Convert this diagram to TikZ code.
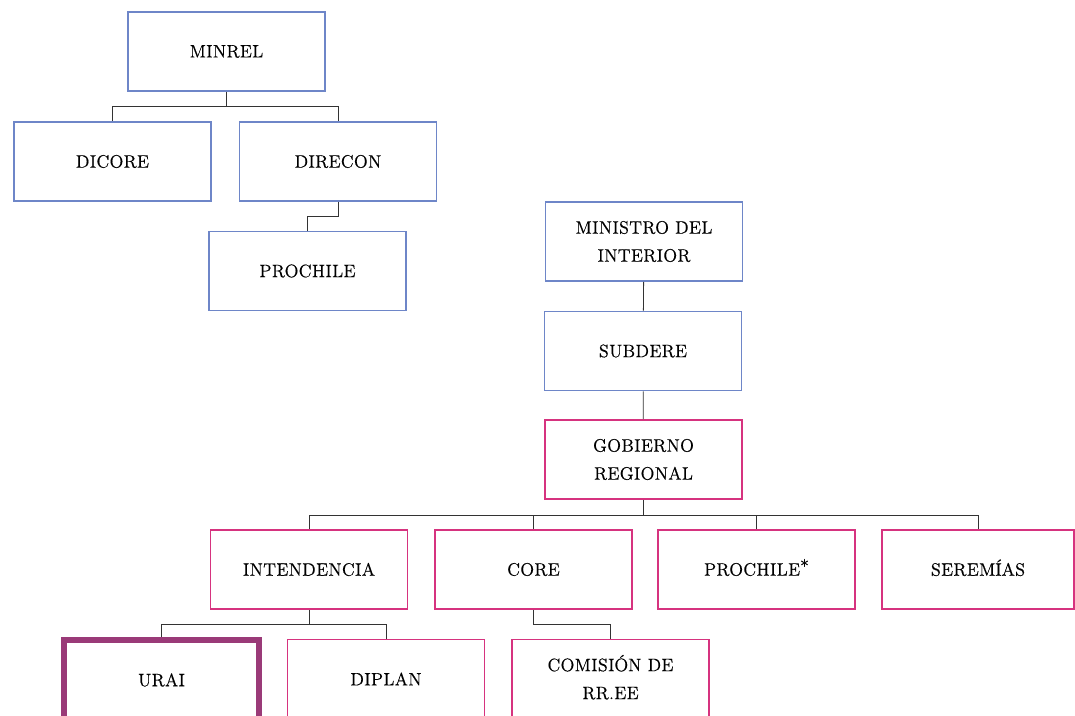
\documentclass[tikz,border=0pt]{standalone}
\usepackage{fontspec}
\newfontfamily\unitfont{Latin Modern Roman}[FakeBold=0.5, LetterSpace=2]
\definecolor{minblue}{HTML}{6E86C8}
\definecolor{gorepink}{HTML}{D6337F}
\definecolor{uraipurple}{HTML}{9A3A78}
\tikzset{
  unit/.style={draw, line width=1.2pt, fill=white, minimum width=147.75pt, minimum height=59.25pt,
    align=center, inner sep=2pt, font=\unitfont\fontsize{13.5}{21}\selectfont},
  national/.style={unit, draw=minblue},
  regional/.style={unit, draw=gorepink},
  focus/.style={unit, draw=uraipurple, line width=4.5pt, minimum width=146pt, minimum height=60pt},
  link/.style={draw=black!80, line width=0.6pt}
}
\begin{document}
\begin{tikzpicture}[x=0.75pt, y=-0.75pt]
            \useasboundingbox (0,0) rectangle (1075,716);
            \clip (0,0) rectangle (1075,716);
            % ministerio de relaciones exteriores
            \node[national] (minrel) at (226.5,51.5) {MINREL};
            \node[national] (dicore) at (112.5,161.5) {DICORE};
            \node[national] (direcon) at (338,161.5) {DIRECON};
            \node[national] (prochileA) at (307.5,271) {PROCHILE};
            \draw[link] (minrel.south) -- ++(0,15) coordinate (busA);
            \draw[link] (dicore.north) |- (busA) -| (direcon.north);
            \draw[link] (direcon.south) -- ++(0,15) -| (prochileA.north);
            % interior
            \node[national] (ministro) at (644,241.5) {MINISTRO DEL\\INTERIOR};
            \node[national] (subdere) at (643,351) {SUBDERE};
            \node[regional] (gore) at (643.5,459.5) {GOBIERNO\\REGIONAL};
            \draw[link] (ministro) -- (subdere);
            \draw[link] (subdere) -- (gore);
            % gobierno regional
            \node[regional] (intendencia) at (309,569.5) {INTENDENCIA};
            \node[regional] (core) at (533.5,569.5) {CORE};
            \node[regional] (prochileB) at (756.5,569.5) {PROCHILE\smash{\raisebox{0.4ex}{*}}};
            \node[regional, minimum width=144pt] (seremias) at (978,569.5) {SEREM\smash{Í}AS};
            \draw[link] (gore.south) -- ++(0,16) coordinate (busB);
            \draw[link] (intendencia.north) |- (busB) -| (seremias.north);
            \draw[link] (core.north) -- (core.north |- busB);
            \draw[link] (prochileB.north) -- (prochileB.north |- busB);
            % intendencia y core
            \node[focus] (urai) at (161.5,680) {URAI};
            \node[regional] (diplan) at (386,679) {DIPLAN};
            \node[regional] (comision) at (610.5,679) {COMISI\smash{Ó}N DE\\RR.EE};
            \draw[link] (intendencia.south) -- ++(0,15) coordinate (busC);
            \draw[link] (urai.north) |- (busC) -| (diplan.north);
            \draw[link] (core.south) -- ++(0,15) -| (comision.north);
        \end{tikzpicture}
\end{document}
